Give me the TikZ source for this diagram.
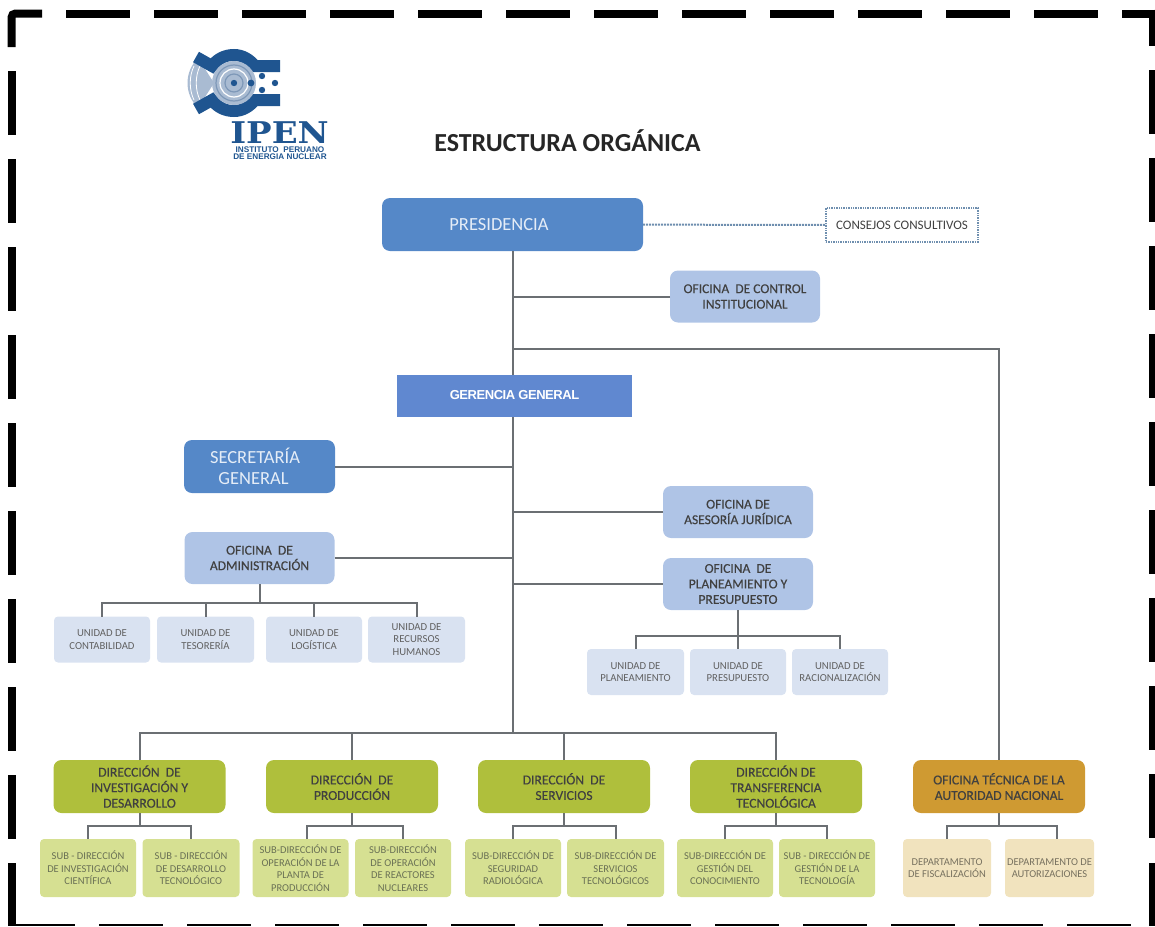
\documentclass[tikz,border=0pt]{standalone}
\usepackage{fontspec}
\setmainfont{Carlito}
\newfontfamily\semifont[FakeBold=0.35]{Carlito}
\newfontfamily\arialfont{Liberation Sans}
\newfontfamily\tightfont[LetterSpace=-3.5]{Liberation Sans}
\newfontfamily\slabfont{DejaVu Serif}
\usetikzlibrary{positioning}

\definecolor{linegray}{HTML}{6B6F73}
\definecolor{logoblue}{HTML}{1F5590}
\definecolor{logopale}{HTML}{A9BBD2}
\definecolor{logoring}{HTML}{7E98B8}
\definecolor{mainblue}{HTML}{5588C8}
\definecolor{gerenciablue}{HTML}{6088D0}
\definecolor{officeblue}{HTML}{AFC4E6}
\definecolor{unitblue}{HTML}{D9E2F1}
\definecolor{dirgreen}{HTML}{AFBF3C}
\definecolor{subgreen}{HTML}{D6E092}
\definecolor{techorange}{HTML}{CF9A32}
\definecolor{deptcream}{HTML}{F1E3BE}
\definecolor{dotblue}{HTML}{6F8FAF}
\definecolor{subtext}{HTML}{6A7155}
\definecolor{depttext}{HTML}{77715F}

\begin{document}
\begin{tikzpicture}[
        x=1pt, y=-1pt,
        node distance=7pt and 7pt,
        every node/.style={align=center, inner sep=0pt, outer sep=0pt},
        mainbox/.style={fill=mainblue, rounded corners=8pt, minimum width=151pt, minimum height=53pt, text=white!85!mainblue, font=\fontsize{18.5}{21}\selectfont},
        officebox/.style={fill=officeblue, rounded corners=8pt, minimum width=150pt, minimum height=52pt, text=black!75, font=\semifont\fontsize{13.5}{15.5}\selectfont},
        unitbox/.style={fill=unitblue, rounded corners=4pt, minimum width=96pt, minimum height=46pt, text=black!62, font=\fontsize{10.7}{12.5}\selectfont},
        dirbox/.style={fill=dirgreen, rounded corners=8pt, minimum width=172pt, minimum height=53pt, text=black!75, font=\semifont\fontsize{13.6}{15.5}\selectfont},
        subbox/.style={fill=subgreen, rounded corners=4pt, minimum width=96pt, minimum height=58pt, text=subtext, font=\fontsize{10.5}{12.5}\selectfont},
        deptbox/.style={subbox, fill=deptcream, text=depttext},
        link/.style={draw=linegray, line width=2pt},
        dotlink/.style={draw=dotblue, densely dotted, line width=2pt},
        framedash/.style={line width=8pt, black},
        logoband/.style={draw=logoblue, line width=12pt}
    ]
    \useasboundingbox (0,0) rectangle (1155,926);

    % Frame
    \draw[framedash, rounded corners=4pt] (11.5,47) -- (11.5,13.5) -- (42,13.5);
    \draw[framedash] (1122,13.5) -- (1152,13.5);
    \draw[framedash, line width=6pt] (1152,9.5) -- (1152,46);
    \foreach \x in {66,154,...,1034} \draw[framedash] (\x,13.5) -- ++(64,0);
    \foreach \y in {71,159,...,775} \draw[framedash] (11.5,\y) -- ++(0,64);
    \foreach \y in {70,158,...,774} \draw[framedash, line width=6pt] (1152,\y) -- ++(0,64);
    \draw[framedash] (11.5,863) -- (11.5,926);
    \draw[framedash, line width=6pt] (1152,863) -- (1152,926);
    \foreach \x in {99,187,...,1067} \draw[framedash, line width=2.5pt] (\x,924.75) -- ++(64,0);
    \draw[framedash, line width=2.5pt] (15,924.75) -- (75,924.75);

    % Logo
    \fill[logopale] (198,58) .. controls (184,72) and (184,94) .. (198,108) -- (214,83) -- cycle;
    \draw[white, line width=.8pt] (194,66) .. controls (189,76) and (189,90) .. (194,100);
    \draw[white, line width=.8pt] (200,66) .. controls (195,76) and (195,90) .. (200,100);
    \draw[logoband] (196,57) -- (212,66) .. controls (218,58) and (226,55) .. (234,55) .. controls (243,55) and (250,60) .. (255,66) -- (280,66);
    \draw[logoband] (196,109) -- (212,100) .. controls (218,108) and (226,111) .. (234,111) .. controls (243,111) and (250,106) .. (255,100) -- (280,100);
    \fill[logopale] (234,83) circle[radius=22];
    \draw[logoring, line width=1.2pt] (234,83) circle[radius=18];
    \draw[white, line width=1.2pt] (234,83) circle[radius=14];
    \draw[logoring, line width=1.2pt] (234,83) circle[radius=9];
    \fill[logoblue] (234,83) circle[radius=3.2];
    \fill[logoblue] (251,83) circle[radius=3.4];
    \fill[logoblue] (262,76) circle[radius=3.2];
    \fill[logoblue] (262,90) circle[radius=3.2];
    \fill[logoblue] (275,83) circle[radius=3.2];
    \node[text=logoblue, font=\slabfont\bfseries\fontsize{34}{34}\selectfont] (ipen) at (279.5,133) {\scalebox{1}[.88]{IPEN}};
    \node[text=logoblue, font=\arialfont\bfseries\fontsize{8.2}{7.2}\selectfont] (ipenname) at (280,153.5) {INSTITUTO\ \ PERUANO\\DE ENERGIA NUCLEAR};

    % Title
    \node[text=black!85, font=\bfseries\fontsize{26}{28}\selectfont] (titulo) at (567.5,140.5) {ESTRUCTURA ORGÁNICA};

    % Top level
    \node[mainbox, minimum width=261pt] (presidencia) at (512.5,224.5) {PRESIDENCIA\hspace*{27pt}};
    \node[draw=dotblue, densely dotted, line width=1.4pt, minimum width=152pt, minimum height=34pt, text=black!75, font=\fontsize{13}{14}\selectfont] (consejos) at (902,225) {CONSEJOS CONSULTIVOS};
    \node[officebox] (control) at (745,296.5) {OFICINA~ DE CONTROL\\INSTITUCIONAL};
    \node[fill=gerenciablue, minimum width=235pt, minimum height=42pt, text=white, font=\tightfont\bfseries\fontsize{13}{16}\selectfont] (gerencia) at (514.5,396) {\raisebox{1.5pt}{GERENCIA GENERAL}};

    % Left and right offices
    \node[mainbox] (secretaria) at (259.5,466.5) {SECRETARÍA\hspace*{9pt}\\GENERAL\hspace*{12pt}};
    \node[officebox] (administracion) at (259.5,558) {OFICINA~ DE\\ADMINISTRACIÓN};
    \node[officebox] (asesoria) at (738,512) {OFICINA DE\\ASESORÍA JURÍDICA};
    \node[officebox] (planeamiento) at (738,584) {OFICINA~ DE\\PLANEAMIENTO Y\\PRESUPUESTO};

    % Units under administracion
    \node[unitbox] (contabilidad) at (102,639.5) {UNIDAD DE\\CONTABILIDAD};
    \node[unitbox, minimum width=97pt, right=of contabilidad] (tesoreria) {UNIDAD DE\\TESORERÍA};
    \node[unitbox, right=12pt of tesoreria] (logistica) {UNIDAD DE\\LOGÍSTICA};
    \node[unitbox, minimum width=97pt, right=6pt of logistica] (recursos) {UNIDAD DE\\RECURSOS\\HUMANOS};

    % Units under planeamiento
    \node[unitbox, minimum width=97pt] (uplaneamiento) at (635.5,672) {UNIDAD DE\\PLANEAMIENTO};
    \node[unitbox, right=6pt of uplaneamiento] (presupuesto) {UNIDAD DE\\PRESUPUESTO};
    \node[unitbox, right=6pt of presupuesto] (racionalizacion) {UNIDAD DE\\RACIONALIZACIÓN};

    % Directions
    \node[dirbox] (investigacion) at (139.5,786.5) {DIRECCIÓN~ DE\\INVESTIGACIÓN Y\\DESARROLLO};
    \node[dirbox, right=40.5pt of investigacion] (produccion) {DIRECCIÓN~ DE\\PRODUCCIÓN};
    \node[dirbox, right=40pt of produccion] (servicios) {DIRECCIÓN~ DE\\SERVICIOS};
    \node[dirbox, right=40pt of servicios] (transferencia) {DIRECCIÓN DE\\TRANSFERENCIA\\TECNOLÓGICA};
    \node[dirbox, fill=techorange, right=51pt of transferencia] (tecnica) {OFICINA TÉCNICA DE LA\\AUTORIDAD NACIONAL};

    % Sub-directions
    \node[subbox] (sub1) at (88,868) {SUB - DIRECCIÓN\\DE INVESTIGACIÓN\\CIENTÍFICA};
    \node[subbox, minimum width=97pt, right=6.5pt of sub1] (sub2) {SUB - DIRECCIÓN\\DE DESARROLLO\\TECNOLÓGICO};
    \node[subbox, right=13pt of sub2] (sub3) {SUB-DIRECCIÓN DE\\OPERACIÓN DE LA\\PLANTA DE\\PRODUCCIÓN};
    \node[subbox, right=6.5pt of sub3] (sub4) {SUB-DIRECCIÓN\\DE OPERACIÓN\\DE REACTORES\\NUCLEARES};
    \node[subbox, right=14pt of sub4] (sub5) {SUB-DIRECCIÓN DE\\SEGURIDAD\\RADIOLÓGICA};
    \node[subbox, minimum width=97pt, right=6pt of sub5] (sub6) {SUB-DIRECCIÓN DE\\SERVICIOS\\TECNOLÓGICOS};
    \node[subbox, right=13pt of sub6] (sub7) {SUB-DIRECCIÓN DE\\GESTIÓN DEL\\CONOCIMIENTO};
    \node[subbox, right=6pt of sub7] (sub8) {SUB - DIRECCIÓN DE\\GESTIÓN DE LA\\TECNOLOGÍA};
    \node[deptbox, minimum width=88pt, right=28pt of sub8] (fiscalizacion) {DEPARTAMENTO\\DE FISCALIZACIÓN};
    \node[deptbox, minimum width=89pt, right=14pt of fiscalizacion] (autorizaciones) {DEPARTAMENTO DE\\AUTORIZACIONES};

    % Trunk
    \coordinate (trunkend) at (513,733);
    \draw[link] (presidencia.south) -- (presidencia.south |- gerencia.north);
    \draw[link] (trunkend |- gerencia.south) -- (trunkend);
    \draw[dotlink] (presidencia) -- (consejos);
    \draw[link] (control.west) -- (control.west -| trunkend);
    \draw[link] (trunkend |- 0,349) -| (tecnica.north);
    \draw[link] (secretaria.east) -- (secretaria.east -| trunkend);
    \draw[link] (administracion.east) -- (administracion.east -| trunkend);
    \draw[link] (asesoria.west) -- (asesoria.west -| trunkend);
    \draw[link] (planeamiento.west) -- (planeamiento.west -| trunkend);

    % Edges to units
    \draw[link] (administracion.south) -- ++(0,19);
    \draw[link] (contabilidad.north) |- (recursos.north |- 0,603) -- (recursos.north);
    \draw[link] (tesoreria.north) -- (tesoreria.north |- 0,603);
    \draw[link] (logistica.north) -- (logistica.north |- 0,603);
    \draw[link] (planeamiento.south) -- (presupuesto.north);
    \draw[link] (uplaneamiento.north) |- (racionalizacion.north |- 0,636) -- (racionalizacion.north);

    % Edges to directions
    \draw[link] (investigacion.north) |- (transferencia.north |- trunkend) -- (transferencia.north);
    \draw[link] (produccion.north) -- (produccion.north |- trunkend);
    \draw[link] (servicios.north) -- (servicios.north |- trunkend);

    % Edges to sub-directions
    \draw[link] (investigacion.south) -- ++(0,13);
    \draw[link] (sub1.north) |- (sub2.north |- 0,826) -- (sub2.north);
    \draw[link] (produccion.south) -- ++(0,13);
    \draw[link] ([xshift=6.5pt]sub3.north) |- (sub4.north |- 0,826) -- (sub4.north);
    \draw[link] (servicios.south) -- ++(0,13);
    \draw[link] (sub5.north) |- (sub6.north |- 0,826) -- (sub6.north);
    \draw[link] (transferencia.south) -- ++(0,13);
    \draw[link] (sub7.north) |- (sub8.north |- 0,826) -- (sub8.north);
    \draw[link] (tecnica.south) -- ++(0,13);
    \draw[link] (fiscalizacion.north) |- ([xshift=7.5pt]autorizaciones.north |- 0,826) -- ([xshift=7.5pt]autorizaciones.north);
\end{tikzpicture}
\end{document}
